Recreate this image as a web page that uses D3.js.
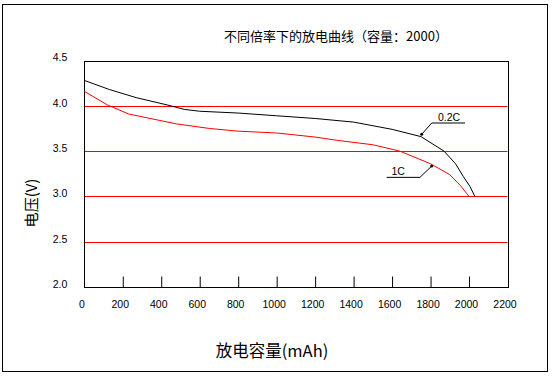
<!DOCTYPE html>
<html>
<head>
<meta charset="utf-8">
<script src="https://cdn.jsdelivr.net/npm/d3@7"></script>
<style>
  html, body { margin: 0; padding: 0; background: #fff; }
  svg { display: block; }
</style>
</head>
<body>
<svg id="chart" width="552" height="377"></svg>
<script>
// ---- data ----
const title = "不同倍率下的放电曲线（容量：2000）";
const xLabel = "放电容量(mAh)";
const yLabel = "电压(V)";
const xTicks = [0, 200, 400, 600, 800, 1000, 1200, 1400, 1600, 1800, 2000, 2200];
const yTicks = [2.0, 2.5, 3.0, 3.5, 4.0, 4.5];
const gridValues = [2.5, 3.0, 3.5, 4.0];

const capacity02C = [0, 130, 270, 430, 520, 600, 800, 1000, 1200, 1400, 1600, 1750, 1870, 1930, 1970, 2005, 2030];
const voltage02C  = [4.28, 4.18, 4.09, 4.01, 3.96, 3.94, 3.92, 3.89, 3.86, 3.82, 3.74, 3.66, 3.50, 3.36, 3.22, 3.11, 3.00];

const capacity1C = [0, 120, 230, 320, 480, 650, 800, 1000, 1200, 1310, 1500, 1640, 1800, 1900, 1955, 2000];
const voltage1C  = [4.16, 4.01, 3.91, 3.87, 3.80, 3.75, 3.72, 3.70, 3.655, 3.62, 3.57, 3.50, 3.36, 3.24, 3.12, 3.00];

// annotation leaders (data units): [dot, elbow, end], label position
const seriesLabels = [
  { name: "0.2C", pts: [[1754, 3.685], [1806, 3.81], [1979, 3.81]], text: [1896, 3.875] },
  { name: "1C",   pts: [[1806, 3.335], [1745, 3.21], [1572, 3.21]], text: [1632, 3.28] }
];

// ---- layout ----
const svg = d3.select("#chart");
const L = 84.3, R = 507.5, T = 60.5, B = 287;

const x = d3.scaleLinear().domain([0, 2200]).range([L, R]);
const y = d3.scaleLinear().domain([2.0, 4.5]).range([B, T]);

// outer frame
svg.append("rect").attr("x", 2.5).attr("y", 4.5).attr("width", 545).attr("height", 367)
  .attr("fill", "none").attr("stroke", "#000").attr("stroke-width", 1);

// title
svg.append("text").attr("x", 336).attr("y", 35).attr("text-anchor", "middle")
  .attr("dominant-baseline", "central")
  .style("font-family", "'Noto Sans CJK SC', sans-serif").style("font-size", "13px")
  .text(title);

// grid lines (red)
svg.append("g").selectAll("line").data(gridValues).join("line")
  .attr("x1", L).attr("x2", R)
  .attr("y1", d => Math.round(y(d)) + 0.5).attr("y2", d => Math.round(y(d)) + 0.5)
  .attr("stroke", "#ff0000").attr("stroke-width", 1);

// plot box
svg.append("rect").attr("x", Math.round(L) + 0.5).attr("y", Math.round(T) + 0.5)
  .attr("width", Math.round(R) - Math.round(L)).attr("height", Math.round(B) - Math.round(T))
  .attr("fill", "none").attr("stroke", "#000").attr("stroke-width", 1);

// x axis: inner ticks
const xAxis = d3.axisBottom(x).tickValues(xTicks).tickSize(0).tickPadding(0).tickFormat(d => d);
const gx = svg.append("g").attr("transform", `translate(0,${Math.round(B) + 0.5})`).call(xAxis);
gx.select(".domain").remove();
gx.selectAll(".tick line").remove();
gx.selectAll(".tick").filter(d => d > 0 && d < 2200).append("line")
  .attr("x1", 0).attr("x2", 0).attr("y1", 0).attr("y2", -11)
  .attr("stroke", "#000").attr("stroke-width", 1);
gx.selectAll(".tick text")
  .attr("x", -3).attr("y", 13).attr("dy", "0.71em")
  .attr("fill", "#000")
  .style("font-family", "'Liberation Sans', Arial, sans-serif").style("font-size", "10.5px");

// y axis labels
const yAxis = d3.axisLeft(y).tickValues(yTicks).tickSize(0).tickPadding(0).tickFormat(d3.format(".1f"));
const gy = svg.append("g").attr("transform", `translate(${L},0)`).call(yAxis);
gy.select(".domain").remove();
gy.selectAll(".tick text")
  .attr("x", -17).attr("y", -3)
  .attr("fill", "#000")
  .style("font-family", "'Liberation Sans', Arial, sans-serif").style("font-size", "10.5px");

// axis titles
svg.append("text").attr("x", 272).attr("y", 350).attr("text-anchor", "middle")
  .attr("dominant-baseline", "central")
  .style("font-family", "'Noto Sans CJK SC', sans-serif").style("font-size", "16.5px")
  .text(xLabel);
svg.append("text").attr("transform", "translate(30,203) rotate(-90)").attr("text-anchor", "middle")
  .attr("dominant-baseline", "central")
  .style("font-family", "'Noto Sans CJK SC', sans-serif").style("font-size", "15px")
  .text(yLabel);

// curves
const line = d3.line().x(d => x(d[0])).y(d => y(d[1]));
const d02 = capacity02C.map((c, i) => [c, voltage02C[i]]);
const d1 = capacity1C.map((c, i) => [c, voltage1C[i]]);
svg.append("path").datum(d1).attr("d", line)
  .attr("fill", "none").attr("stroke", "#ff0000").attr("stroke-width", 1);
svg.append("path").datum(d02).attr("d", line)
  .attr("fill", "none").attr("stroke", "#000").attr("stroke-width", 1);

// annotations
seriesLabels.forEach(s => {
  svg.append("path").datum(s.pts).attr("d", line)
    .attr("fill", "none").attr("stroke", "#000").attr("stroke-width", 1);
  svg.append("circle").attr("cx", x(s.pts[0][0])).attr("cy", y(s.pts[0][1])).attr("r", 1.5)
    .attr("fill", "#000");
  svg.append("text").attr("x", x(s.text[0])).attr("y", y(s.text[1]))
    .attr("text-anchor", "middle").attr("dominant-baseline", "central")
    .style("font-family", "'Liberation Sans', Arial, sans-serif").style("font-size", "10.5px")
    .text(s.name);
});
</script>
</body>
</html>
